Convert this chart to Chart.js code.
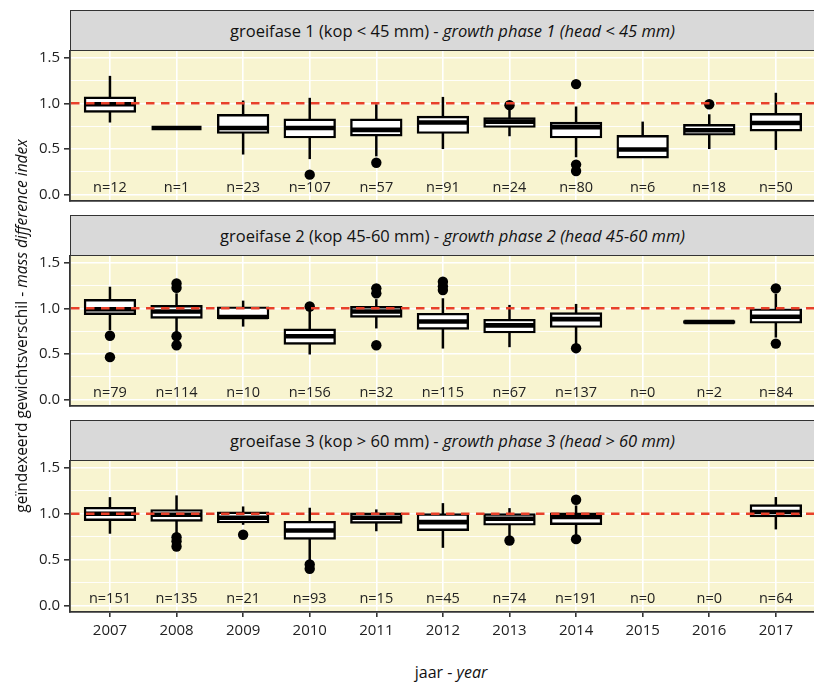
<!DOCTYPE html>
<html>
<head>
<meta charset="utf-8">
<script src="https://cdn.jsdelivr.net/npm/chart.js@4/dist/chart.umd.min.js"></script>
<style>
  html, body { margin: 0; padding: 0; background: #fff; overflow: hidden; width: 814px; height: 685px; }
  body { position: relative; font-family: "Open Sans", sans-serif; color: #111; }
  .strip { position: absolute; left: 70px; width: 764px; height: 41px; box-sizing: border-box;
           background: #d9d9d9; border: 1px solid #333; border-right: none;
           display: flex; align-items: center; justify-content: center; font-size: 16.5px; white-space: nowrap; }
  canvas { position: absolute; left: 0; }
  .ytitle { position: absolute; left: -279px; top: 316px; width: 600px; height: 20px; line-height: 20px;
            text-align: center; transform: rotate(-90deg); font-size: 15.5px; white-space: nowrap; }
  .xtitle { position: absolute; left: 351px; top: 662px; width: 200px; line-height: 20px;
            text-align: center; font-size: 16px; }
</style>
</head>
<body>
<div class="strip" style="top:10px">groeifase 1 (kop &lt; 45 mm) -&nbsp;<i>growth phase 1 (head &lt; 45 mm)</i></div>
<div class="strip" style="top:215px">groeifase 2 (kop 45-60 mm) -&nbsp;<i>growth phase 2 (head 45-60 mm)</i></div>
<div class="strip" style="top:420px">groeifase 3 (kop &gt; 60 mm) -&nbsp;<i>growth phase 3 (head &gt; 60 mm)</i></div>
<canvas id="phase1" width="821" height="163" style="top:43px"></canvas>
<canvas id="phase2" width="821" height="163" style="top:248px"></canvas>
<canvas id="phase3" width="821" height="193" style="top:453px"></canvas>
<div class="ytitle">geïndexeerd gewichtsverschil -&nbsp;<i>mass difference index</i></div>
<div class="xtitle">jaar -&nbsp;<i>year</i></div>
<script>
// Years on the x axis
const years = ['2007', '2008', '2009', '2010', '2011', '2012', '2013', '2014', '2015', '2016', '2017'];

// Y grid: labelled major lines and unlabelled minor lines
const yGrid = [0, 0.25, 0.5, 0.75, 1, 1.25, 1.5];
const yLabelled = [0, 0.5, 1, 1.5];
const refLevel = 1.0;      // reference: no mass difference
const countLabelY = 0.075; // height of the n= labels

// Growth phase 1 (head < 45 mm): whisker ends, quartiles, median, outliers, sample size
const p1Low  = [0.79, 0.73, 0.44, 0.39, 0.42, 0.50, 0.64, 0.41, 0.41, 0.50, 0.49];
const p1Q1   = [0.91, 0.73, 0.68, 0.63, 0.65, 0.68, 0.745, 0.63, 0.41, 0.66, 0.705];
const p1Med  = [0.99, 0.73, 0.73, 0.73, 0.71, 0.79, 0.80, 0.74, 0.495, 0.705, 0.785];
const p1Q3   = [1.06, 0.73, 0.87, 0.82, 0.82, 0.85, 0.835, 0.785, 0.64, 0.76, 0.88];
const p1High = [1.30, 0.73, 1.03, 1.06, 0.99, 1.07, 0.93, 0.965, 0.80, 0.88, 1.115];
const p1Out  = [[3, 0.22], [4, 0.35], [6, 0.98], [7, 1.21], [7, 0.33], [7, 0.26], [9, 0.99]];
const p1N    = [12, 1, 23, 107, 57, 91, 24, 80, 6, 18, 50];

// Growth phase 2 (head 45-60 mm)
const p2Low  = [0.76, 0.74, 0.80, 0.495, 0.78, 0.56, 0.575, 0.60, null, 0.845, 0.68];
const p2Q1   = [0.94, 0.90, 0.895, 0.615, 0.91, 0.78, 0.74, 0.80, null, 0.845, 0.846];
const p2Med  = [0.99, 0.965, 0.905, 0.695, 0.965, 0.855, 0.813, 0.882, null, 0.85, 0.907];
const p2Q3   = [1.088, 1.023, 1.008, 0.766, 1.012, 0.936, 0.871, 0.943, null, 0.855, 0.986];
const p2High = [1.236, 1.164, 1.084, 1.0, 1.10, 1.11, 1.037, 1.048, null, 0.855, 1.16];
const p2Out  = [[0, 0.70], [0, 0.466], [1, 1.272], [1, 1.224], [1, 0.694], [1, 0.596], [3, 1.02],
                [4, 1.218], [4, 1.164], [4, 0.596], [5, 1.29], [5, 1.24], [5, 1.20], [7, 0.564],
                [10, 1.218], [10, 0.614]];
const p2N    = [79, 114, 10, 156, 32, 115, 67, 137, 0, 2, 84];

// Growth phase 3 (head > 60 mm)
const p3Low  = [0.783, 0.783, 0.88, 0.49, 0.81, 0.63, 0.75, 0.77, null, null, 0.83];
const p3Q1   = [0.935, 0.927, 0.909, 0.732, 0.905, 0.826, 0.884, 0.891, null, null, 0.974];
const p3Med  = [1.0, 0.989, 0.957, 0.818, 0.956, 0.909, 0.945, 0.965, null, null, 1.018];
const p3Q3   = [1.061, 1.036, 1.011, 0.909, 1.0, 0.992, 0.992, 1.0, null, null, 1.09];
const p3High = [1.18, 1.199, 1.079, 1.065, 1.047, 1.115, 1.061, 1.09, null, null, 1.181];
const p3Out  = [[1, 0.746], [1, 0.702], [1, 0.645], [2, 0.772], [3, 0.449], [3, 0.402],
                [6, 0.71], [7, 1.152], [7, 0.724]];
const p3N    = [151, 135, 21, 93, 15, 45, 74, 191, 0, 0, 64];

Chart.defaults.font.family = "'Open Sans', sans-serif";
Chart.defaults.font.size = 15;
Chart.defaults.color = '#222';

const panelFill = '#f8f4d0';
const axisColor = '#333';

function boxPlugin(low, med, high, counts, boxIdx) {
  return {
    id: 'boxExtras',
    beforeDraw(chart) {
      const a = chart.chartArea, c = chart.ctx;
      c.save();
      c.fillStyle = panelFill;
      c.fillRect(a.left, a.top, a.right - a.left, a.bottom - a.top);
      c.restore();
    },
    beforeDatasetsDraw(chart) {
      const c = chart.ctx, xs = chart.scales.x, ys = chart.scales.y;
      c.save();
      c.strokeStyle = '#000';
      c.lineWidth = 2.5;
      boxIdx.forEach(i => {
        const x = xs.getPixelForValue(i);
        c.beginPath();
        c.moveTo(x, ys.getPixelForValue(low[i]));
        c.lineTo(x, ys.getPixelForValue(high[i]));
        c.stroke();
      });
      c.restore();
    },
    afterDatasetsDraw(chart) {
      const c = chart.ctx, xs = chart.scales.x, ys = chart.scales.y, a = chart.chartArea;
      const bars = chart.getDatasetMeta(1).data;
      c.save();
      // medians
      c.strokeStyle = '#000';
      c.lineWidth = 4.6;
      c.lineCap = 'butt';
      bars.forEach((bar, j) => {
        const i = boxIdx[j];
        const y = ys.getPixelForValue(med[i]);
        c.beginPath();
        c.moveTo(bar.x - bar.width / 2, y);
        c.lineTo(bar.x + bar.width / 2, y);
        c.stroke();
      });
      // reference line
      const yr = ys.getPixelForValue(refLevel);
      c.strokeStyle = '#e8402a';
      c.lineWidth = 2.5;
      c.setLineDash([8.5, 6.5]);
      c.beginPath();
      c.moveTo(a.left + 1, yr);
      c.lineTo(a.right, yr);
      c.stroke();
      c.setLineDash([]);
      // sample sizes
      c.fillStyle = '#222';
      c.font = "14.5px 'Open Sans', sans-serif";
      c.textAlign = 'center';
      c.textBaseline = 'middle';
      counts.forEach((n, i) => {
        c.fillText('n=' + n, xs.getPixelForValue(i), ys.getPixelForValue(countLabelY));
      });
      c.restore();
    }
  };
}

function buildPanel(id, low, q1, med, q3, high, outliers, counts, showYears) {
  const boxIdx = years.map((_, i) => i).filter(i => q1[i] !== null);
  const bottomH = showYears ? 34 : 4;
  new Chart(document.getElementById(id), {
    type: 'bar',
    data: {
      datasets: [
        {
          type: 'scatter',
          data: outliers.map(([i, v]) => ({ x: i, y: v })),
          pointRadius: 5.2,
          pointBackgroundColor: '#000',
          pointBorderWidth: 0
        },
        {
          type: 'bar',
          data: boxIdx.map(i => ({ x: i, y: [q1[i], q3[i]] })),
          backgroundColor: '#fff',
          borderColor: '#000',
          borderWidth: 2.4,
          borderSkipped: false,
          inflateAmount: 1.2,
          categoryPercentage: 1,
          barPercentage: 0.75
        }
      ]
    },
    options: {
      responsive: false,
      animation: false,
      events: [],
      layout: { padding: { top: 8, left: 0, right: 0, bottom: 0 } },
      plugins: { legend: { display: false }, tooltip: { enabled: false } },
      scales: {
        x: {
          type: 'linear',
          min: -0.6,
          max: 10.6,
          offset: false,
          afterBuildTicks: axis => { axis.ticks = years.map((_, i) => ({ value: i })); },
          afterFit: s => { s.height = bottomH; s.paddingLeft = 0; s.paddingRight = 0; },
          ticks: {
            display: showYears,
            autoSkip: false,
            maxRotation: 0,
            padding: 5,
            callback: v => years[v] ?? ''
          },
          grid: { offset: false, color: '#fff', lineWidth: 1.6, drawTicks: showYears, tickLength: 5, tickColor: axisColor, tickWidth: 1.6 },
          border: { display: true, color: axisColor, width: 1.8 }
        },
        y: {
          type: 'linear',
          min: -0.066,
          max: 1.572,
          afterBuildTicks: axis => { axis.ticks = yGrid.map(v => ({ value: v })); },
          afterFit: s => { s.width = 70; s.paddingTop = 0; s.paddingBottom = 0; },
          ticks: {
            padding: 4,
            callback: v => yLabelled.includes(v) ? v.toFixed(1) : ''
          },
          grid: {
            color: '#fff',
            lineWidth: ctx => yLabelled.includes(ctx.tick.value) ? 1.6 : 0.9,
            tickLength: 6,
            tickWidth: 1.6,
            tickColor: ctx => yLabelled.includes(ctx.tick.value) ? axisColor : 'rgba(0,0,0,0)'
          },
          border: { display: true, color: axisColor, width: 1.8 }
        }
      }
    },
    plugins: [boxPlugin(low, med, high, counts, boxIdx)]
  });
}

buildPanel('phase1', p1Low, p1Q1, p1Med, p1Q3, p1High, p1Out, p1N, false);
buildPanel('phase2', p2Low, p2Q1, p2Med, p2Q3, p2High, p2Out, p2N, false);
buildPanel('phase3', p3Low, p3Q1, p3Med, p3Q3, p3High, p3Out, p3N, true);
</script>
</body>
</html>
